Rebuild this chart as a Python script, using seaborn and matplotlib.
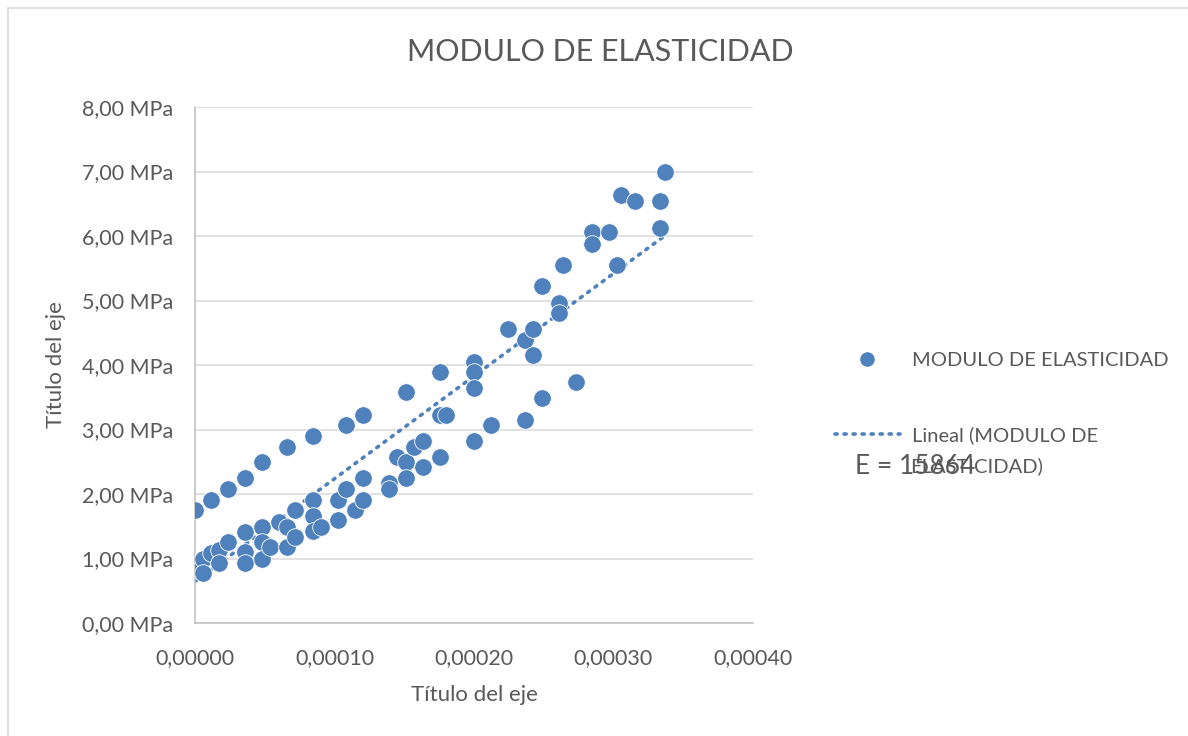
import matplotlib
matplotlib.use("Agg")
import matplotlib.pyplot as plt
from matplotlib.lines import Line2D
from matplotlib.patches import Rectangle
from matplotlib.ticker import FuncFormatter, MultipleLocator
import seaborn as sns
import pandas as pd

# strain (mm/mm) and stress (MPa)
strain = [
    0.0, 0.0, 0.0000057, 0.0000057, 0.0000115, 0.0000115, 0.0000172, 0.0000172,
    0.0000237, 0.0000237, 0.0000358, 0.0000358, 0.0000358, 0.0000358,
    0.000048, 0.000048, 0.000048, 0.000048, 0.0000538, 0.0000602,
    0.000066, 0.000066, 0.000066, 0.0000717, 0.0000717,
    0.0000846, 0.0000846, 0.0000846, 0.0000846, 0.0000903,
    0.0001025, 0.0001025, 0.0001082, 0.0001082, 0.0001147,
    0.0001204, 0.0001204, 0.0001204, 0.0001391, 0.0001391, 0.0001448,
    0.0001513, 0.0001513, 0.0001513, 0.000157, 0.0001634, 0.0001634,
    0.0001756, 0.0001756, 0.0001799, 0.0001756,
    0.0002, 0.0002, 0.0002, 0.0002, 0.0002122, 0.0002244,
    0.0002366, 0.0002366, 0.0002423, 0.0002423, 0.0002487, 0.0002487,
    0.0002609, 0.0002609, 0.0002638, 0.0002731, 0.0002846, 0.0002846,
    0.0002968, 0.0003025, 0.0003054, 0.0003154, 0.0003333, 0.0003333, 0.0003369,
]
stress = [
    1.75, 0.93, 1.00, 0.77, 1.91, 1.08, 1.13, 0.93,
    2.07, 1.25, 2.25, 1.41, 1.10, 0.93,
    2.50, 1.49, 1.26, 1.00, 1.18, 1.57,
    1.49, 1.18, 2.73, 1.75, 1.33,
    2.90, 1.91, 1.66, 1.43, 1.49,
    1.91, 1.60, 3.07, 2.07, 1.75,
    3.22, 2.25, 1.91, 2.17, 2.08, 2.57,
    3.58, 2.50, 2.25, 2.73, 2.82, 2.42,
    3.89, 3.22, 3.22, 2.57,
    4.05, 3.89, 3.64, 2.82, 3.07, 4.56,
    4.39, 3.15, 4.56, 4.16, 5.22, 3.49,
    4.96, 4.81, 5.55, 3.74, 6.06, 5.88,
    6.06, 5.55, 6.64, 6.54, 6.54, 6.12, 6.99,
]

SERIES = "MODULO DE ELASTICIDAD"
TREND_LABEL = ["Lineal (MODULO DE", "ELASTICIDAD)"]
E_TEXT = "E = 15864"
AXIS_TITLE = "Título del eje"

BLUE = "#4f81bd"
GRAY_TEXT = "#595959"
DOTS = (0, (0.6, 1.9))

sns.set_theme(style="white")
plt.rcParams["font.family"] = ["Lato", "DejaVu Sans"]

df = pd.DataFrame({"strain": strain, "stress": stress})

fig = plt.figure(figsize=(11.88, 7.36), dpi=100)
ax = fig.add_axes([195 / 1188, 1 - 623 / 736, 558 / 1188, 516 / 736])

# chart area border (Excel style)
fig.patches.append(Rectangle((8 / 1188, -0.1), 1.2, (736 - 8) / 736 + 0.1,
                             transform=fig.transFigure, fill=False,
                             edgecolor="#d9d9d9", linewidth=1.2))

sns.regplot(data=df, x="strain", y="stress", ax=ax, scatter=False, ci=None,
            line_kws={"color": BLUE, "linewidth": 2.6,
                      "linestyle": DOTS, "dash_capstyle": "round"})
sns.scatterplot(data=df, x="strain", y="stress", ax=ax, color=BLUE, s=160,
                edgecolor="white", linewidth=0.6, zorder=3)

ax.set_xlim(0, 0.0004)
ax.set_ylim(0, 8)
ax.xaxis.set_major_locator(MultipleLocator(0.0001))
ax.yaxis.set_major_locator(MultipleLocator(1))
ax.xaxis.set_major_formatter(FuncFormatter(lambda v, p: f"{v:.5f}".replace(".", ",")))
ax.yaxis.set_major_formatter(FuncFormatter(lambda v, p: f"{v:.2f} MPa".replace(".", ",")))
ax.grid(axis="y", color="#d9d9d9", linewidth=1.1)
ax.set_axisbelow(True)
for side in ["top", "right"]:
    ax.spines[side].set_visible(False)
for side in ["left", "bottom"]:
    ax.spines[side].set_color("#bfbfbf")
    ax.spines[side].set_linewidth(1.1)
ax.tick_params(length=0, labelsize=15.5, labelcolor=GRAY_TEXT)
ax.tick_params(axis="y", pad=16)
ax.tick_params(axis="x", pad=18)

ax.set_xlabel(AXIS_TITLE, fontsize=16, color=GRAY_TEXT, labelpad=12)
ax.set_ylabel(AXIS_TITLE, fontsize=16, color=GRAY_TEXT, labelpad=11)
fig.text(600 / 1188, 1 - 52 / 736, SERIES, ha="center", va="center",
         fontsize=22, color=GRAY_TEXT)

handles = [
    Line2D([], [], linestyle="none", marker="o", markersize=11.5,
           markerfacecolor=BLUE, markeredgecolor="white"),
    Line2D([], [], color=BLUE, linewidth=2.6, linestyle=DOTS,
           dash_capstyle="round"),
]
fig.legend(handles, [SERIES, TREND_LABEL[0]], loc="upper left",
           bbox_to_anchor=(827 / 1188, 1 - 344 / 736), frameon=False,
           fontsize=14.5, labelcolor=GRAY_TEXT, handlelength=3.2,
           handletextpad=0.6, labelspacing=2.85, borderaxespad=0)
fig.text(910 / 1188, 1 - 466 / 736, TREND_LABEL[1], ha="left", va="center",
         fontsize=14.5, color=GRAY_TEXT)
fig.text(855 / 1188, 1 - 466 / 736, E_TEXT, ha="left", va="center",
         fontsize=19, color=GRAY_TEXT)

fig.savefig("out.png", dpi=100)
